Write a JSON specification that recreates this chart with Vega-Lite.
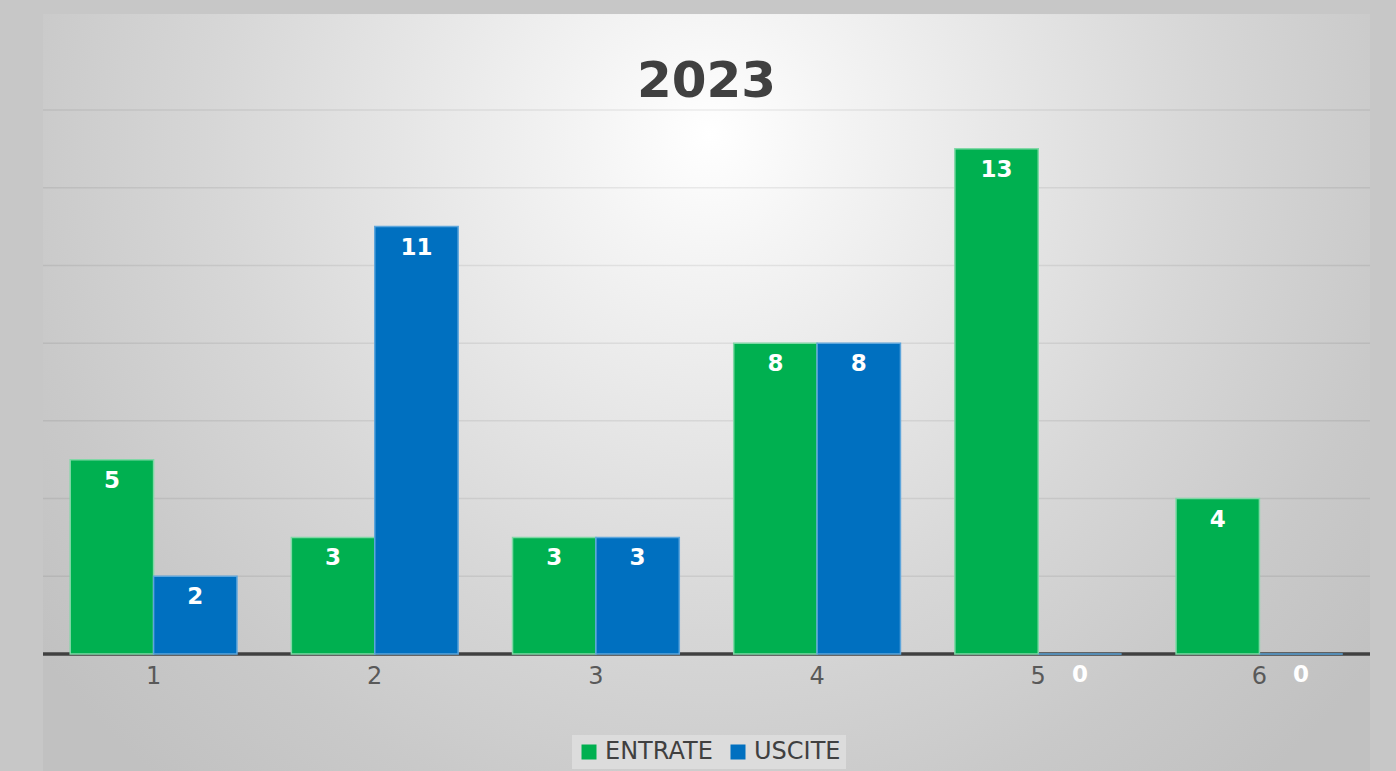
{
  "$schema": "https://vega.github.io/schema/vega-lite/v6.json",
  "autosize": {"type": "none"},
  "width": 1327,
  "height": 544,
  "padding": {"left": 43, "top": 110, "right": 26, "bottom": 117},
  "background": "#c7c7c7",
  "title": {
    "text": "2023",
    "fontSize": 50,
    "font": "DejaVu Sans",
    "fontWeight": "bold",
    "color": "#404040",
    "anchor": "middle",
    "baseline": "alphabetic",
    "offset": 12,
    "dy": 145
  },
  "data": {
    "values": [
      {"cat": "1", "serie": "ENTRATE", "val": 5},
      {"cat": "1", "serie": "USCITE", "val": 2},
      {"cat": "2", "serie": "ENTRATE", "val": 3},
      {"cat": "2", "serie": "USCITE", "val": 11},
      {"cat": "3", "serie": "ENTRATE", "val": 3},
      {"cat": "3", "serie": "USCITE", "val": 3},
      {"cat": "4", "serie": "ENTRATE", "val": 8},
      {"cat": "4", "serie": "USCITE", "val": 8},
      {"cat": "5", "serie": "ENTRATE", "val": 13},
      {"cat": "5", "serie": "USCITE", "val": 0},
      {"cat": "6", "serie": "ENTRATE", "val": 4},
      {"cat": "6", "serie": "USCITE", "val": 0}
    ]
  },
  "layer": [
    {
      "data": {"values": [{"bg": 1}]},
      "mark": {
        "type": "rect",
        "fill": {
          "gradient": "radial",
          "x1": 0.503, "y1": 0.305, "r1": 0,
          "x2": 0.503, "y2": 0.305, "r2": 0.64,
          "stops": [
            {"offset": 0, "color": "#ffffff"},
            {"offset": 0.15, "color": "#f4f4f4"},
            {"offset": 0.3, "color": "#eaeaea"},
            {"offset": 0.58, "color": "#d7d7d7"},
            {"offset": 0.82, "color": "#c9c9c9"},
            {"offset": 1, "color": "#c1c1c1"}
          ]
        }
      },
      "encoding": {
        "y": {
          "datum": 16.47,
          "type": "quantitative",
          "title": null,
          "scale": {"domain": [0, 14], "nice": false},
          "axis": null
        },
        "y2": {"datum": -3.02}
      }
    },
    {
      "data": {"values": [{"g": 2}, {"g": 4}, {"g": 6}, {"g": 8}, {"g": 10}, {"g": 12}, {"g": 14}]},
      "mark": {"type": "rule", "color": "#000000", "opacity": 0.07, "strokeWidth": 1.5},
      "encoding": {
        "y": {
          "field": "g",
          "type": "quantitative",
          "title": null,
          "scale": {"domain": [0, 14], "nice": false},
          "axis": null
        }
      }
    },
    {
      "data": {"values": [{"base": 0}]},
      "mark": {"type": "rule", "color": "#404040", "strokeWidth": 3.5},
      "encoding": {
        "y": {
          "field": "base",
          "type": "quantitative",
          "title": null,
          "scale": {"domain": [0, 14], "nice": false},
          "axis": null
        }
      }
    },
    {
      "encoding": {
        "x": {
          "field": "cat",
          "type": "ordinal",
          "title": null,
          "scale": {"paddingInner": 0.246, "paddingOuter": 0.123},
          "axis": {
            "zindex": 1,
            "labelAngle": 0,
            "labelFont": "DejaVu Sans",
            "labelFontSize": 24,
            "labelColor": "#595959",
            "labelPadding": 10,
            "ticks": false,
            "domain": false,
            "grid": false
          }
        },
        "xOffset": {"field": "serie", "type": "nominal"},
        "y": {
          "field": "val",
          "type": "quantitative",
          "title": null,
          "scale": {"domain": [0, 14], "nice": false},
          "axis": null
        }
      },
      "layer": [
        {
          "mark": {"type": "bar", "strokeWidth": 1.5},
          "encoding": {
            "stroke": {
              "field": "serie",
              "type": "nominal",
              "scale": {"domain": ["ENTRATE", "USCITE"], "range": ["#80d8a6", "#5ea6dc"]},
              "legend": null
            },
            "color": {
              "field": "serie",
              "type": "nominal",
              "title": null,
              "scale": {"domain": ["ENTRATE", "USCITE"], "range": ["#00B050", "#0070C0"]},
              "legend": {
                "orient": "none",
                "legendX": 529,
                "legendY": 625,
                "direction": "horizontal",
                "symbolType": "square",
                "symbolSize": 225,
                "symbolStrokeWidth": 0,
                "labelFont": "DejaVu Sans",
                "labelFontSize": 24,
                "labelColor": "#404040",
                "fillColor": "#dcdcdc",
                "padding": 5,
                "columnPadding": 13,
                "labelOffset": 4
              }
            }
          }
        },
        {
          "mark": {
            "type": "text",
            "color": "#ffffff",
            "font": "DejaVu Sans",
            "fontWeight": "bold",
            "fontSize": 23,
            "baseline": "middle",
            "dy": 21
          },
          "encoding": {
            "text": {"field": "val", "type": "quantitative"}
          }
        }
      ]
    }
  ],
  "config": {
    "view": {"stroke": null}
  }
}
